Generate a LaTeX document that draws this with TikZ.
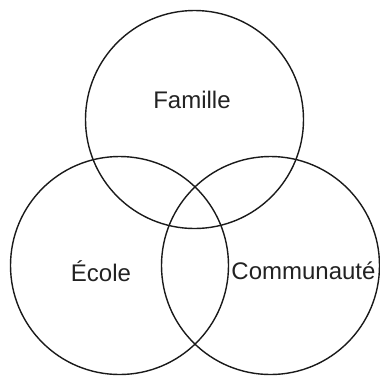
\documentclass[tikz,border=0pt]{standalone}
\usepackage{fontspec}
\setmainfont{Liberation Sans}
\usetikzlibrary{positioning}
\definecolor{vline}{HTML}{1A1A1A}
\definecolor{vtext}{HTML}{222222}
\tikzset{
  setcircle/.style={circle, draw=vline, line width=1.4pt, minimum size=218pt, inner sep=0pt},
  setlabel/.style={font=\fontsize{24}{28}\selectfont, text=vtext, inner sep=0pt}
}

\begin{document}
\begin{tikzpicture}[x=1pt, y=-1pt]
\useasboundingbox (0,0) rectangle (380,376);
\node[setcircle] (famille) at (194.5,119.5) {};
\node[setcircle] (ecole) at (119.5,265.5) {};
\node[setcircle] (communaute) at (270.5,265.5) {};
\node[setlabel] (famillelbl) at (192,100) {Famille};
\node[setlabel] (ecolelbl) at (101,271) {École};
\node[setlabel] (communautelbl) at (303.5,271) {Communauté};
\end{tikzpicture}
\end{document}
